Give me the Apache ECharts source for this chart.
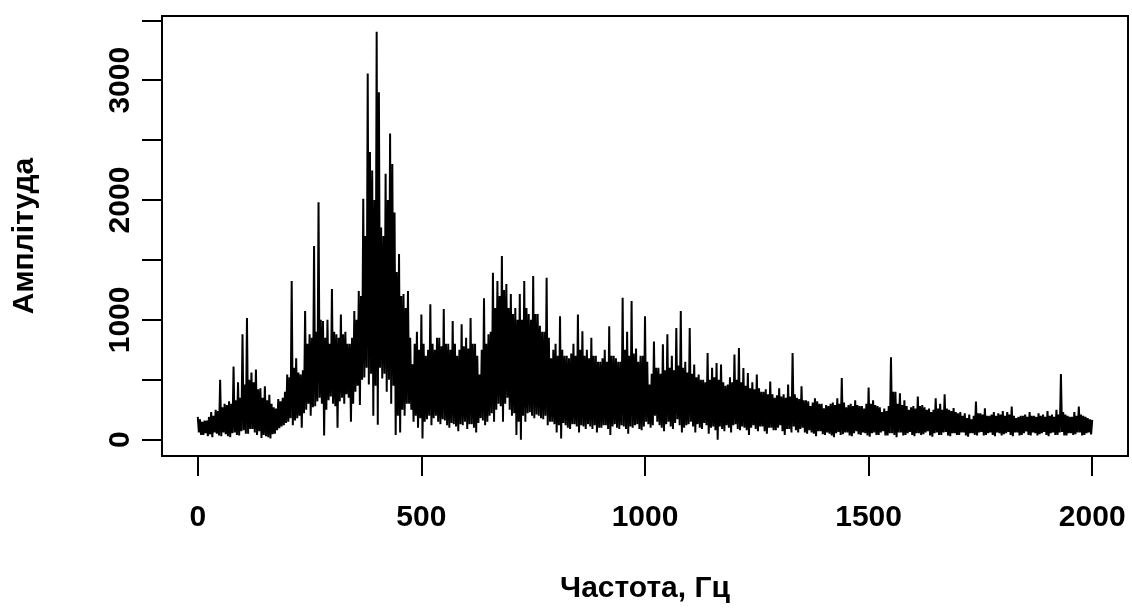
<!DOCTYPE html>
<html>
<head>
<meta charset="utf-8">
<script src="https://cdn.jsdelivr.net/npm/echarts@6/dist/echarts.min.js"></script>
<style>
html,body{margin:0;padding:0;background:#fff;}
#chart{width:1132px;height:609px;}
</style>
</head>
<body>
<div id="chart"></div>
<script>
// Frequency grid step (Hz); amplitudes below are read every 2.5 Hz from 0 to 2000 Hz (one row = 100 Hz)
const freqStep = 2.5;
const amplitude = [
  190,60,170,40, 150,40,160,55, 160,30,190,45, 230,20,200,60, 250,50,240,35, 500,30,270,60, 300,45,290,30, 320,20,300,55, 610,60,330,40, 480,35,350,70,
  880,80,460,50, 1015,50,500,90, 560,90,480,60, 585,40,420,70, 430,15,350,40, 445,30,330,20, 375,10,300,45, 270,50,260,80, 340,95,320,110, 350,120,400,140,
  545,150,520,180, 1324,120,600,160, 680,180,560,200, 545,100,580,220, 1073,250,800,300, 880,200,850,270, 1617,280,900,320, 1981,350,1000,300, 990,35,850,250, 1000,330,800,360,
  1257,300,900,280, 880,100,850,320, 1045,350,880,300, 900,380,800,350, 800,150,850,300, 1073,400,1000,450, 1240,290,1200,500, 2011,520,1700,600, 3056,460,2400,550, 2246,200,2000,450,
  3405,125,2900,600, 1771,510,1700,550, 2220,400,2000,500, 2555,300,2300,450, 1897,40,1400,200, 1550,60,1200,250, 1215,200,1100,300, 1240,300,850,250, 630,150,800,200, 900,100,750,180,
  1045,10,800,150, 700,170,750,200, 1130,120,800,180, 750,200,850,150, 850,130,780,170, 1090,160,800,120, 800,100,750,140, 990,130,800,110, 700,70,750,130, 963,120,780,150,
  850,90,760,130, 1015,130,800,100, 800,60,700,140, 545,180,750,160, 1180,120,800,150, 880,200,900,220, 1394,150,1100,250, 1324,300,1200,280, 1534,150,1250,300, 1300,350,1100,250,
  1215,200,1050,220, 1100,40,1000,150, 1215,0,1000,200, 1324,150,1100,220, 1050,230,1000,200, 1366,180,1050,210, 1050,200,950,180, 900,170,900,200, 1352,120,850,150, 680,150,750,130,
  800,60,700,120, 1030,10,750,140, 700,120,700,100, 680,90,720,130, 800,130,700,110, 1045,60,750,120, 905,110,700,90, 750,130,680,110, 850,90,700,120, 700,60,650,100,
  650,100,680,120, 750,120,650,90, 947,40,700,110, 700,130,680,100, 650,90,650,120, 1185,110,750,90, 900,50,700,110, 1157,100,720,120, 760,130,650,90, 700,80,700,110,
  1030,150,650,130, 460,100,550,120, 820,200,600,150, 600,120,550,100, 796,70,580,130, 880,150,600,110, 700,90,580,140, 933,170,620,120, 1073,60,600,100, 650,120,560,130,
  933,150,550,110, 628,60,520,130, 545,100,500,90, 500,140,480,120, 723,50,500,100, 600,110,520,80, 640,0,500,110, 628,90,480,70, 450,120,460,100, 520,60,480,120,
  710,130,500,90, 765,80,480,110, 598,100,450,80, 556,40,430,100, 480,120,420,90, 545,70,430,110, 400,110,400,70, 420,50,380,100, 486,100,380,80, 350,80,370,100,
  430,120,360,70, 380,40,350,90, 460,90,360,60, 723,110,380,80, 350,60,340,90, 445,100,330,60, 330,50,320,80, 280,60,310,50, 346,30,320,70, 300,70,300,45,
  262,40,290,60, 280,50,300,35, 310,20,290,55, 346,65,300,40, 514,45,310,60, 270,60,290,35, 300,30,280,55, 330,70,290,45, 280,40,280,60, 260,55,300,35,
  436,25,300,55, 330,60,290,40, 280,40,270,60, 230,70,260,35, 240,35,280,55, 687,55,400,40, 400,20,300,60, 388,60,290,35, 330,40,280,55, 250,65,270,40,
  280,30,260,55, 360,55,280,40, 290,45,270,60, 250,70,260,35, 230,25,250,55, 346,60,260,40, 300,40,250,60, 380,65,260,35, 250,30,240,55, 265,55,230,40,
  220,40,230,60, 200,60,220,35, 180,25,210,55, 170,55,200,40, 318,35,220,60, 220,65,210,35, 262,40,200,55, 200,60,210,40, 230,30,200,60, 220,55,210,35,
  240,45,200,55, 230,65,210,40, 276,30,200,60, 180,60,190,35, 200,40,200,55, 210,70,190,40, 230,35,200,60, 200,55,190,35, 220,45,200,55, 210,65,190,40,
  240,30,200,55, 210,60,190,40, 250,40,210,60, 548,65,230,35, 210,35,200,55, 190,55,190,40, 230,45,200,60, 276,60,210,35, 200,40,190,55, 180,60,170,45,
  165
];
const xTicks = [0, 500, 1000, 1500, 2000];
const yTicks = [0, 500, 1000, 1500, 2000, 2500, 3000, 3500];
const yLabels = [0, 1000, 2000, 3000];
const xTitle = 'Частота, Гц';
const yTitle = 'Амплітуда';

const points = amplitude.map((v, i) => [i * freqStep, v]);

const font = '"Liberation Sans", Arial, sans-serif';
const plain = v => String(v);
const chart = echarts.init(document.getElementById('chart'), null, {renderer: 'canvas'});
chart.setOption({
  animation: false,
  backgroundColor: '#fff',
  grid: {left: 162, right: 4, top: 16, bottom: 153, show: true, borderColor: '#000', borderWidth: 2, backgroundColor: 'transparent'},
  xAxis: {
    type: 'value', min: -80, max: 2080,
    axisLine: {show: false, onZero: false},
    splitLine: {show: false},
    axisTick: {show: true, inside: false, length: 20, customValues: xTicks, lineStyle: {color: '#000', width: 2}},
    axisLabel: {customValues: xTicks, formatter: plain, margin: 47, color: '#000', fontSize: 30, fontWeight: 'bold', fontFamily: font},
    name: xTitle, nameLocation: 'middle', nameGap: 118,
    nameTextStyle: {color: '#000', fontSize: 30, fontWeight: 'bold', fontFamily: font}
  },
  yAxis: {
    type: 'value', min: -136, max: 3536,
    axisLine: {show: false, onZero: false},
    splitLine: {show: false},
    axisTick: {show: true, inside: false, length: 20, customValues: yTicks, lineStyle: {color: '#000', width: 2}},
    axisLabel: {customValues: yLabels, formatter: plain, rotate: 90, margin: 26, color: '#000', fontSize: 30, fontWeight: 'bold', fontFamily: font},
    name: yTitle, nameLocation: 'middle', nameGap: 122, nameRotate: 90,
    nameTextStyle: {color: '#000', fontSize: 30, fontWeight: 'bold', fontFamily: font}
  },
  series: [{
    type: 'line', data: points, showSymbol: false, symbol: 'none',
    lineStyle: {color: '#000', width: 2}, silent: true
  }]
});
</script>
</body>
</html>
